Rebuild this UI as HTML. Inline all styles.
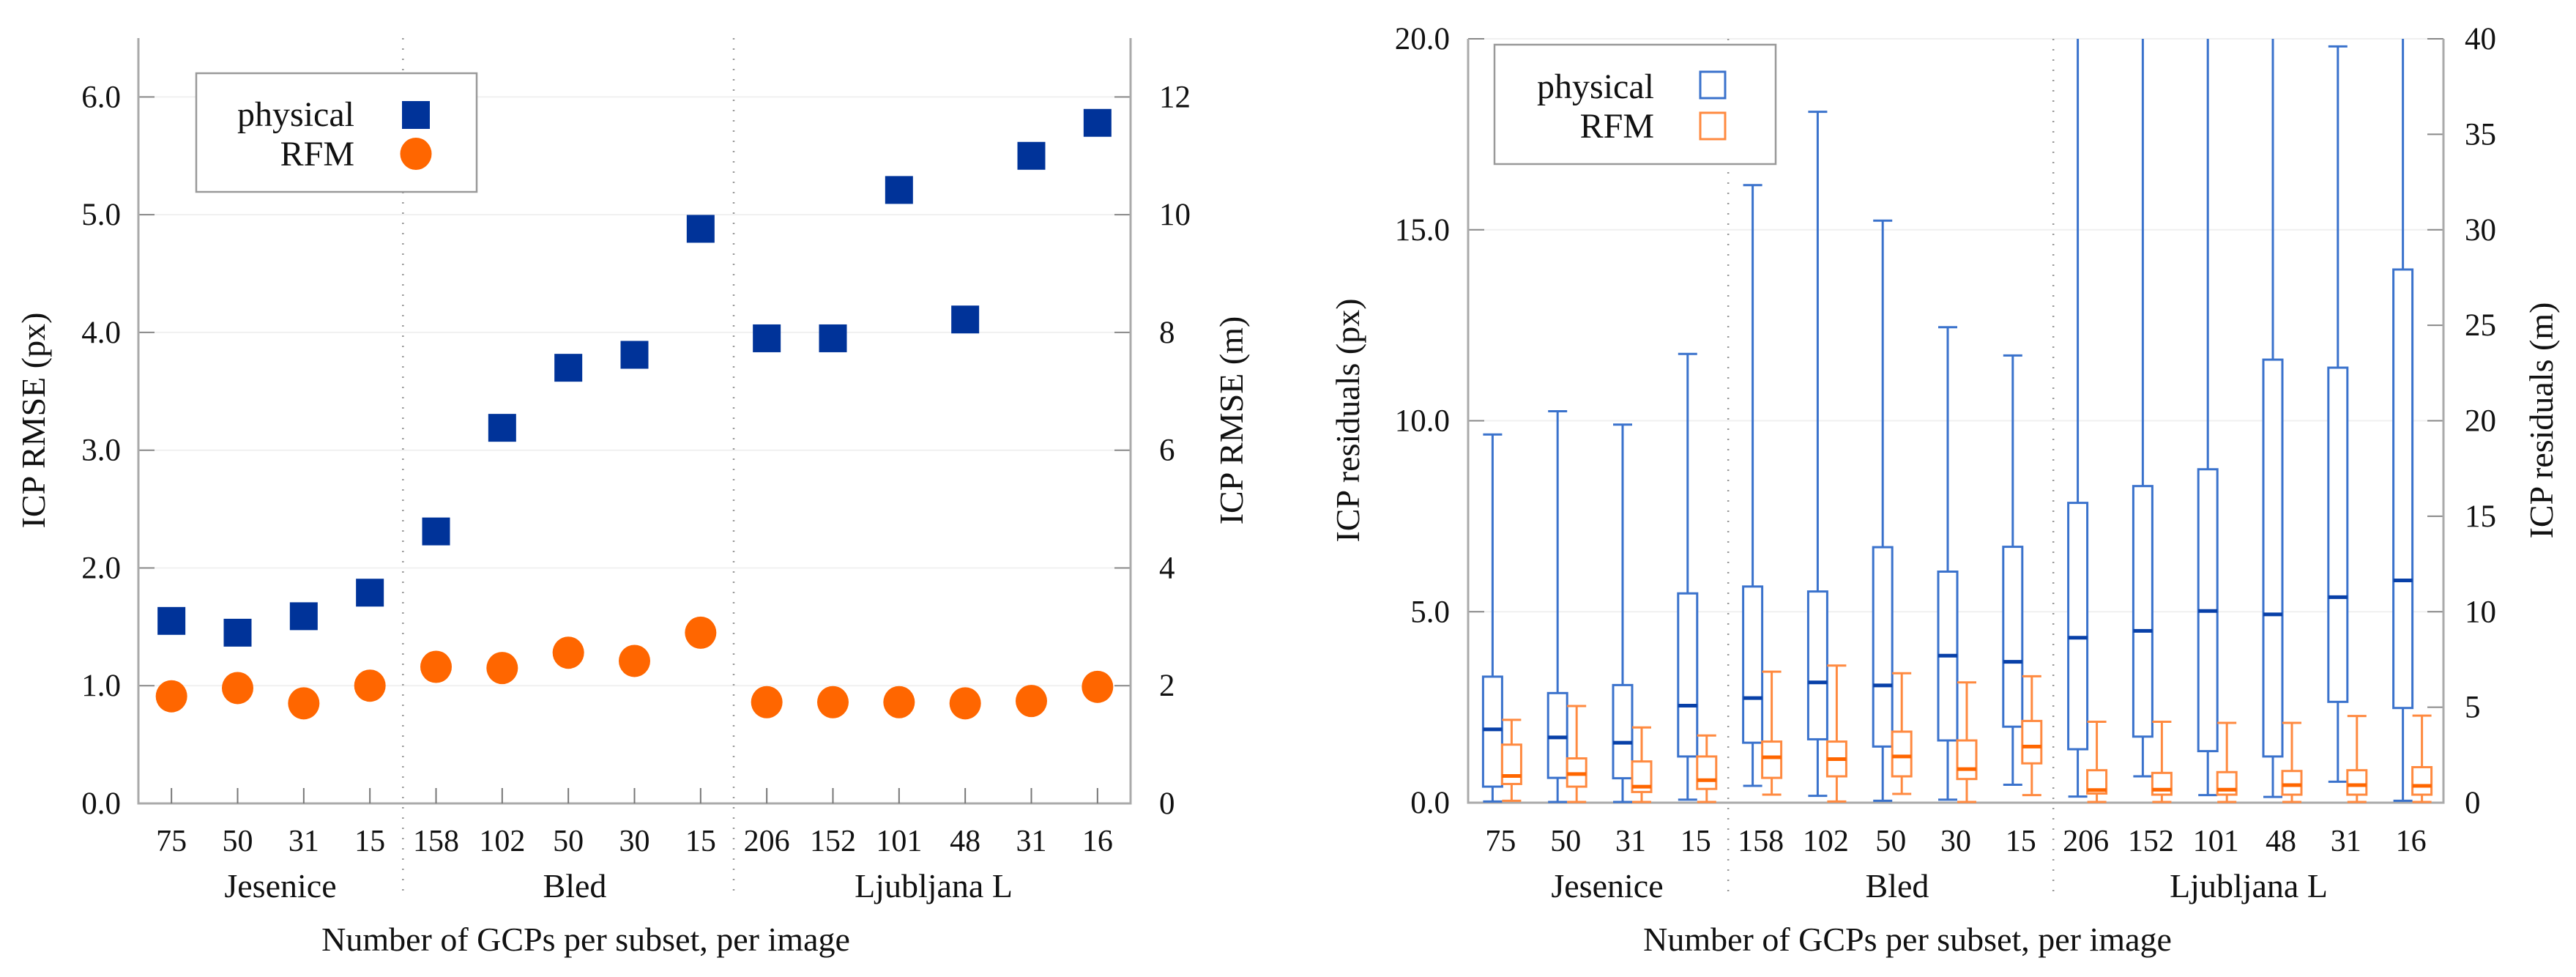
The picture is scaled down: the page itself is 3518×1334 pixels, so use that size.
<!DOCTYPE html>
<html><head><meta charset="utf-8"><style>
html,body{margin:0;padding:0;background:#fff}
svg{display:block}
svg text{font-family:"Liberation Serif","Times New Roman","DejaVu Serif",serif !important;fill:#111}
</style></head><body>
<svg id="c" width="3518" height="1334" viewBox="0 0 3518 1334" xmlns="http://www.w3.org/2000/svg" font-family="'Liberation Serif', 'DejaVu Serif', serif">
<defs><clipPath id="clipR"><rect x="2005" y="53" width="1332" height="1044"/></clipPath></defs>
<g id="left"></g>
<g id="right"></g>
</svg>
<script>
const categories=["75","50","31","15","158","102","50","30","15","206","152","101","48","31","16"];
const groups=["Jesenice","Bled","Ljubljana L"];
const physicalRmse=[1.55,1.45,1.59,1.79,2.31,3.19,3.70,3.81,4.88,3.95,3.95,5.21,4.11,5.50,5.78];
const rfmRmse=[0.91,0.98,0.85,1.00,1.16,1.15,1.28,1.21,1.45,0.86,0.86,0.86,0.85,0.87,0.99];
const leftTicks=["0.0","1.0","2.0","3.0","4.0","5.0","6.0"];
const leftMTicks=["0","2","4","6","8","10","12"];
const physLo=[0.03,0.02,0.02,0.08,0.44,0.18,0.05,0.08,0.47,0.16,0.69,0.20,0.15,0.55,0.05];
const physQ1=[0.42,0.65,0.64,1.21,1.57,1.66,1.47,1.63,1.99,1.40,1.73,1.35,1.21,2.64,2.48];
const physMed=[1.92,1.71,1.57,2.54,2.74,3.15,3.07,3.85,3.69,4.32,4.50,5.02,4.93,5.38,5.82];
const physQ3=[3.30,2.87,3.08,5.48,5.66,5.53,6.69,6.05,6.70,7.85,8.29,8.73,11.6,11.39,13.96];
const physHi=[9.64,10.25,9.90,11.75,16.17,18.09,15.24,12.45,11.71,25,25,25,25,19.8,25];
const rfmLo=[0.05,0.02,0.02,0.02,0.21,0.03,0.23,0.02,0.20,0.02,0.02,0.02,0.02,0.02,0.02];
const rfmQ1=[0.49,0.42,0.28,0.36,0.65,0.69,0.69,0.62,1.03,0.24,0.21,0.21,0.21,0.21,0.21];
const rfmMed=[0.70,0.75,0.42,0.59,1.19,1.14,1.21,0.88,1.47,0.33,0.34,0.34,0.46,0.46,0.44];
const rfmQ3=[1.52,1.16,1.08,1.21,1.60,1.60,1.86,1.63,2.14,0.85,0.78,0.80,0.83,0.85,0.93];
const rfmHi=[2.17,2.53,1.97,1.76,3.43,3.59,3.39,3.15,3.31,2.12,2.12,2.09,2.09,2.27,2.28];
const rightTicks=["0.0","5.0","10.0","15.0","20.0"];
const rightMTicks=["0","5","10","15","20","25","30","35","40"];

const NS="http://www.w3.org/2000/svg";
const FF="'Liberation Serif', 'DejaVu Serif', serif";
function mk(parent,tag,attrs,txt){const e=document.createElementNS(NS,tag);for(const k in attrs)e.setAttribute(k,attrs[k]);if(txt!==undefined){e.textContent=txt;e.setAttribute('font-family',FF);}parent.appendChild(e);return e;}

// ---------- LEFT CHART ----------
const L=document.getElementById('left');
const lx0=189,lx1=1544,ly0=1097,ly1=52,lmax=6.5;
const lstep=(lx1-lx0)/categories.length;
const lX=i=>lx0+lstep*(i+0.5);
const lY=v=>ly0-(v/lmax)*(ly0-ly1);
leftTicks.forEach((t,i)=>{const v=parseFloat(t);const y=lY(v);
 if(v>0){const g=mk(L,'line',{x1:lx0,x2:lx1,y1:y,y2:y,stroke:'#f0f0f0','stroke-width':2});}
 const tk=mk(L,'line',{x1:lx0,x2:lx0+22,y1:y,y2:y,stroke:'#888','stroke-width':2});
 const tl=mk(L,'text',{x:165,y:y+14,'font-size':43,'text-anchor':'end'},t);});
leftMTicks.forEach(t=>{const v=parseFloat(t)/2;const y=lY(v);
 const tk=mk(L,'line',{x1:lx1-22,x2:lx1,y1:y,y2:y,stroke:'#888','stroke-width':2});
 const tl=mk(L,'text',{x:1583,y:y+14,'font-size':43},t);});
[4,9].forEach(k=>{const x=lx0+lstep*k;const s=mk(L,'line',{x1:x,x2:x,y1:ly1,y2:1226,stroke:'#999','stroke-width':2.5,'stroke-dasharray':'2 12'});});
const la=mk(L,'path',{d:`M${lx0} ${ly1}V${ly0}H${lx1}V${ly1}`,fill:'none',stroke:'#aaa','stroke-width':3});
categories.forEach((c,i)=>{const x=lX(i);
 const tk=mk(L,'line',{x1:x,x2:x,y1:ly0,y2:ly0-21,stroke:'#777','stroke-width':2});
 const tl=mk(L,'text',{x:x,y:1162,'font-size':42,'text-anchor':'middle'},c);});
[[383,0],[785,1],[1275,2]].forEach(([x,k])=>{const g=mk(L,'text',{x:x,y:1225,'font-size':46,'text-anchor':'middle'},groups[k]);});
const lxt=mk(L,'text',{x:800,y:1298,'font-size':46,'text-anchor':'middle'},'Number of GCPs per subset, per image');
const lyt=mk(L,'text',{x:0,y:0,'font-size':46,'text-anchor':'middle',transform:'translate(61,574) rotate(-90)'},'ICP RMSE (px)');
const lyt2=mk(L,'text',{x:0,y:0,'font-size':46,'text-anchor':'middle',transform:'translate(1697,574) rotate(-90)'},'ICP RMSE (m)');
physicalRmse.forEach((v,i)=>{const r=mk(L,'rect',{x:lX(i)-19,y:lY(v)-19,width:38,height:38,fill:'#003399'});});
rfmRmse.forEach((v,i)=>{const c=mk(L,'ellipse',{cx:lX(i),cy:lY(v),rx:21.5,ry:22,fill:'#ff6600'});});
const lg=mk(L,'g',{});
mk(lg,'rect',{x:268,y:100,width:383,height:162,fill:'#fff',stroke:'#999','stroke-width':2.5});
const l1=mk(lg,'text',{x:484,y:172,'font-size':48,'text-anchor':'end'},'physical');
const l2=mk(lg,'text',{x:484,y:226,'font-size':48,'text-anchor':'end'},'RFM');
mk(lg,'rect',{x:549,y:138,width:38,height:38,fill:'#003399'});
mk(lg,'ellipse',{cx:568,cy:210,rx:21.5,ry:22,fill:'#ff6600'});

// ---------- RIGHT CHART ----------
const R=document.getElementById('right');
const rx0=2005,rx1=3337,ry0=1096,ry1=53,rmax=20;
const rstep=(rx1-rx0)/categories.length;
const rX=i=>rx0+rstep*(i+0.5);
const rY=v=>ry0-(v/rmax)*(ry0-ry1);
rightTicks.forEach(t=>{const v=parseFloat(t);const y=rY(v);
 if(v>0){const g=mk(R,'line',{x1:rx0,x2:rx1,y1:y,y2:y,stroke:'#f0f0f0','stroke-width':2});}
 const tk=mk(R,'line',{x1:rx0,x2:rx0+22,y1:y,y2:y,stroke:'#888','stroke-width':2});
 const tl=mk(R,'text',{x:1980,y:y+14,'font-size':43,'text-anchor':'end'},t);});
rightMTicks.forEach(t=>{const v=parseFloat(t)/2;const y=rY(v);
 const tk=mk(R,'line',{x1:rx1-22,x2:rx1,y1:y,y2:y,stroke:'#888','stroke-width':2});
 const tl=mk(R,'text',{x:3366,y:y+14,'font-size':43},t);});
[4,9].forEach(k=>{const x=rx0+rstep*k;const s=mk(R,'line',{x1:x,x2:x,y1:ry1,y2:1226,stroke:'#999','stroke-width':2.5,'stroke-dasharray':'2 12'});});
const ra=mk(R,'path',{d:`M${rx0} ${ry1}V${ry0}H${rx1}V${ry1}`,fill:'none',stroke:'#aaa','stroke-width':3});
categories.forEach((c,i)=>{const x=rX(i);
 const tl=mk(R,'text',{x:x,y:1162,'font-size':42,'text-anchor':'middle'},c);});
[[2195,0],[2591,1],[3071,2]].forEach(([x,k])=>{const g=mk(R,'text',{x:x,y:1225,'font-size':46,'text-anchor':'middle'},groups[k]);});
const rxt=mk(R,'text',{x:2605,y:1298,'font-size':46,'text-anchor':'middle'},'Number of GCPs per subset, per image');
const ryt=mk(R,'text',{x:0,y:0,'font-size':46,'text-anchor':'middle',transform:'translate(1856,574) rotate(-90)'},'ICP residuals (px)');
const ryt2=mk(R,'text',{x:0,y:0,'font-size':46,'text-anchor':'middle',transform:'translate(3486,574) rotate(-90)'},'ICP residuals (m)');
const boxes=mk(R,'g',{'clip-path':'url(#clipR)'});
function drawBox(cx,lo,q1,med,q3,hi,col,medCol,name){
 const w=26,h=w/2;
 const g=mk(boxes,'g',{});
 
 
 mk(g,'line',{x1:cx,x2:cx,y1:rY(hi),y2:rY(q3),stroke:col,'stroke-width':3});
 mk(g,'line',{x1:cx,x2:cx,y1:rY(q1),y2:rY(lo),stroke:col,'stroke-width':3});
 mk(g,'line',{x1:cx-h,x2:cx+h,y1:rY(hi),y2:rY(hi),stroke:col,'stroke-width':3});
 mk(g,'line',{x1:cx-h,x2:cx+h,y1:rY(lo),y2:rY(lo),stroke:col,'stroke-width':3});
 mk(g,'rect',{x:cx-h,y:rY(q3),width:w,height:rY(q1)-rY(q3),fill:'#fff',stroke:col,'stroke-width':3});
 mk(g,'line',{x1:cx-h,x2:cx+h,y1:rY(med),y2:rY(med),stroke:medCol,'stroke-width':5});
}
categories.forEach((c,i)=>{
 drawBox(rX(i)-11,physLo[i],physQ1[i],physMed[i],physQ3[i],physHi[i],'#3a72cc','#0840a8','physical-box');
 drawBox(rX(i)+15,rfmLo[i],rfmQ1[i],rfmMed[i],rfmQ3[i],rfmHi[i],'#ff8a40','#ff6600','rfm-box');
});
const rg=mk(R,'g',{});
mk(rg,'rect',{x:2041,y:61,width:384,height:163,fill:'#fff',stroke:'#999','stroke-width':2.5});
const r1=mk(rg,'text',{x:2259,y:134,'font-size':48,'text-anchor':'end'},'physical');
const r2=mk(rg,'text',{x:2259,y:188,'font-size':48,'text-anchor':'end'},'RFM');
mk(rg,'rect',{x:2322,y:98,width:34,height:36,fill:'none',stroke:'#3a72cc','stroke-width':3});
mk(rg,'rect',{x:2322,y:154,width:34,height:36,fill:'none',stroke:'#ff8a40','stroke-width':3});
</script>
</body></html>
